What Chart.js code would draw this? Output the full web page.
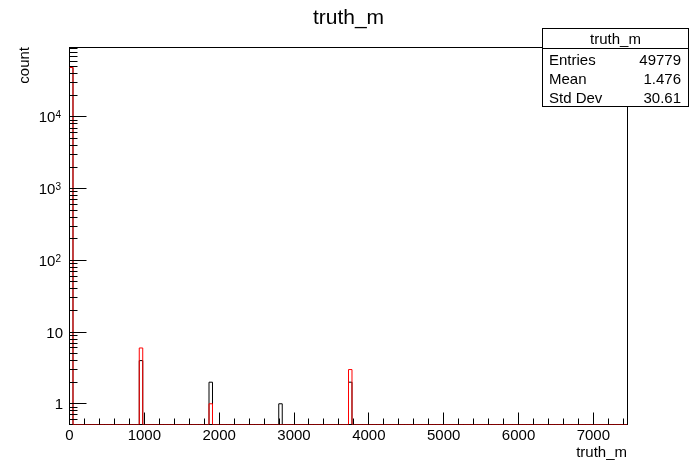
<!DOCTYPE html>
<html>
<head>
<meta charset="utf-8">
<title>truth_m</title>
<script src="https://cdn.jsdelivr.net/npm/chart.js@4.4.0/dist/chart.umd.min.js"></script>
<style>
  html, body { margin: 0; padding: 0; background: #ffffff; }
  #wrap { width: 696px; height: 472px; }
</style>
</head>
<body>
<div id="wrap"><canvas id="truthChart" width="696" height="472"></canvas></div>
<script>
// histogram binning: 160 bins between X_MIN and X_MAX
const N_BINS = 160;
const X_MIN = 0;
const X_MAX = 7456;
const Y_MIN = 0.514;
const Y_MAX = 93000;

// only the filled bins are listed, every other bin is empty
const filledBins = [0, 20, 40, 60, 80];
const blackCounts = [48900, 4, 2, 1, 2];
const redCounts = [49000, 6, 1, 0, 3];

// axis ticks / labels
const xTickValues = [0, 1000, 2000, 3000, 4000, 5000, 6000, 7000];
const xTickLabels = ["0", "1000", "2000", "3000", "4000", "5000", "6000", "7000"];
const yTickValues = [1, 10, 100, 1000, 10000];
const yTickBase = ["1", "10", "10", "10", "10"];
const yTickExp = ["", "", "2", "3", "4"];

// stats box
const statsTitle = "truth_m";
const statsLabels = ["Entries", "Mean", "Std Dev"];
const statsValues = ["49779", "1.476", "30.61"];

const FONT = '"Liberation Sans", Arial, Helvetica, sans-serif';

// Build stepped outline points (low edge of each bin + final high edge)
function buildSteps(counts) {
  const binWidth = (X_MAX - X_MIN) / N_BINS;
  const pts = [];
  for (let i = 0; i < N_BINS; i++) {
    const k = filledBins.indexOf(i);
    const c = k >= 0 ? counts[k] : 0;
    // empty bins sit on the bottom of the frame, like ROOT does on log scale
    pts.push({ x: X_MIN + i * binWidth, y: c > 0 ? c : Y_MIN });
  }
  pts.push({ x: X_MAX, y: pts[pts.length - 1].y });
  return pts;
}

function crisp(v) {
  return Math.round(v - 0.5) + 0.5;
}

// ROOT-like frame, inward ticks, labels and stats box
const rootStyle = {
  id: "rootStyle",
  beforeDatasetsDraw(chart) {
    const { ctx, chartArea: a } = chart;
    ctx.save();
    ctx.strokeStyle = "#000";
    ctx.lineWidth = 1;
    ctx.strokeRect(a.left, a.top, a.right - a.left, a.bottom - a.top);
    ctx.restore();
  },
  afterDatasetsDraw(chart) {
    const { ctx, chartArea: a } = chart;
    const xs = chart.scales.x;
    const ys = chart.scales.y;
    ctx.save();
    ctx.strokeStyle = "#000";
    ctx.lineWidth = 1;

    // x ticks: major every 1000, minor every 200
    ctx.beginPath();
    for (let v = X_MIN; v <= X_MAX; v += 200) {
      const px = crisp(xs.getPixelForValue(v));
      const len = v % 1000 === 0 ? 12 : 6;
      ctx.moveTo(px, a.bottom);
      ctx.lineTo(px, a.bottom - len);
    }
    // y ticks: decades major, 2..9 minor
    for (let d = -1; d <= 4; d++) {
      for (let m = 1; m <= 9; m++) {
        const v = m * Math.pow(10, d);
        if (v < Y_MIN || v > Y_MAX) continue;
        const py = crisp(ys.getPixelForValue(v));
        const len = m === 1 ? 17 : 8;
        ctx.moveTo(a.left, py);
        ctx.lineTo(a.left + len, py);
      }
    }
    ctx.stroke();

    ctx.fillStyle = "#000";
    // x tick labels
    ctx.font = "15px " + FONT;
    ctx.textAlign = "center";
    ctx.textBaseline = "alphabetic";
    xTickValues.forEach((v, i) => {
      ctx.fillText(xTickLabels[i], xs.getPixelForValue(v), 440);
    });

    // y tick labels (with exponent superscripts)
    yTickValues.forEach((v, i) => {
      const py = ys.getPixelForValue(v);
      ctx.font = "15px " + FONT;
      if (!yTickExp[i]) {
        ctx.textAlign = "right";
        ctx.fillText(yTickBase[i], 63, py + 5.5);
      } else {
        ctx.font = "10px " + FONT;
        const ew = ctx.measureText(yTickExp[i]).width;
        ctx.textAlign = "left";
        ctx.fillText(yTickExp[i], 61 - ew, py + 1.5);
        ctx.font = "15px " + FONT;
        ctx.textAlign = "right";
        ctx.fillText(yTickBase[i], 61 - ew, py + 5.5);
      }
    });

    // axis titles
    ctx.font = "15px " + FONT;
    ctx.textAlign = "right";
    ctx.fillText("truth_m", 627, 457);
    ctx.save();
    ctx.translate(28.5, 47);
    ctx.rotate(-Math.PI / 2);
    ctx.textAlign = "right";
    ctx.fillText("count", 0, 0);
    ctx.restore();

    // main title
    ctx.font = "21px " + FONT;
    ctx.textAlign = "center";
    ctx.fillText("truth_m", 348.5, 24);

    // stats box
    const bx = 542.5, by = 28.5, bw = 146, bh = 78;
    ctx.fillStyle = "#fff";
    ctx.fillRect(bx, by, bw, bh);
    ctx.strokeRect(bx, by, bw, bh);
    ctx.beginPath();
    ctx.moveTo(bx, 48.5);
    ctx.lineTo(bx + bw, 48.5);
    ctx.stroke();
    ctx.fillStyle = "#000";
    ctx.font = "15px " + FONT;
    ctx.textAlign = "center";
    ctx.fillText(statsTitle, bx + bw / 2, 44);
    const rowBase = [65, 84, 103];
    statsLabels.forEach((lab, i) => {
      ctx.textAlign = "left";
      ctx.fillText(lab, 549, rowBase[i]);
      ctx.textAlign = "right";
      ctx.fillText(statsValues[i], 681, rowBase[i]);
    });
    ctx.restore();
  },
};

const ctx = document.getElementById("truthChart").getContext("2d");
const truthChart = new Chart(ctx, {
  type: "line",
  data: {
    datasets: [
      {
        label: "overlay",
        data: buildSteps(redCounts),
        borderColor: "#ff0000",
        borderWidth: 1,
        stepped: true,
        pointRadius: 0,
        fill: false,
      },
      {
        label: "truth_m",
        data: buildSteps(blackCounts),
        borderColor: "#000000",
        borderWidth: 1,
        stepped: true,
        pointRadius: 0,
        fill: false,
      },
    ],
  },
  options: {
    responsive: false,
    animation: false,
    devicePixelRatio: 1,
    events: [],
    layout: { padding: { left: 69.5, right: 68.5, top: 47.5, bottom: 47.5 } },
    plugins: {
      legend: { display: false },
      tooltip: { enabled: false },
      title: { display: false },
    },
    scales: {
      x: { type: "linear", min: X_MIN, max: X_MAX, display: false },
      y: { type: "logarithmic", min: Y_MIN, max: Y_MAX, display: false },
    },
  },
  plugins: [rootStyle],
});
</script>
</body>
</html>
